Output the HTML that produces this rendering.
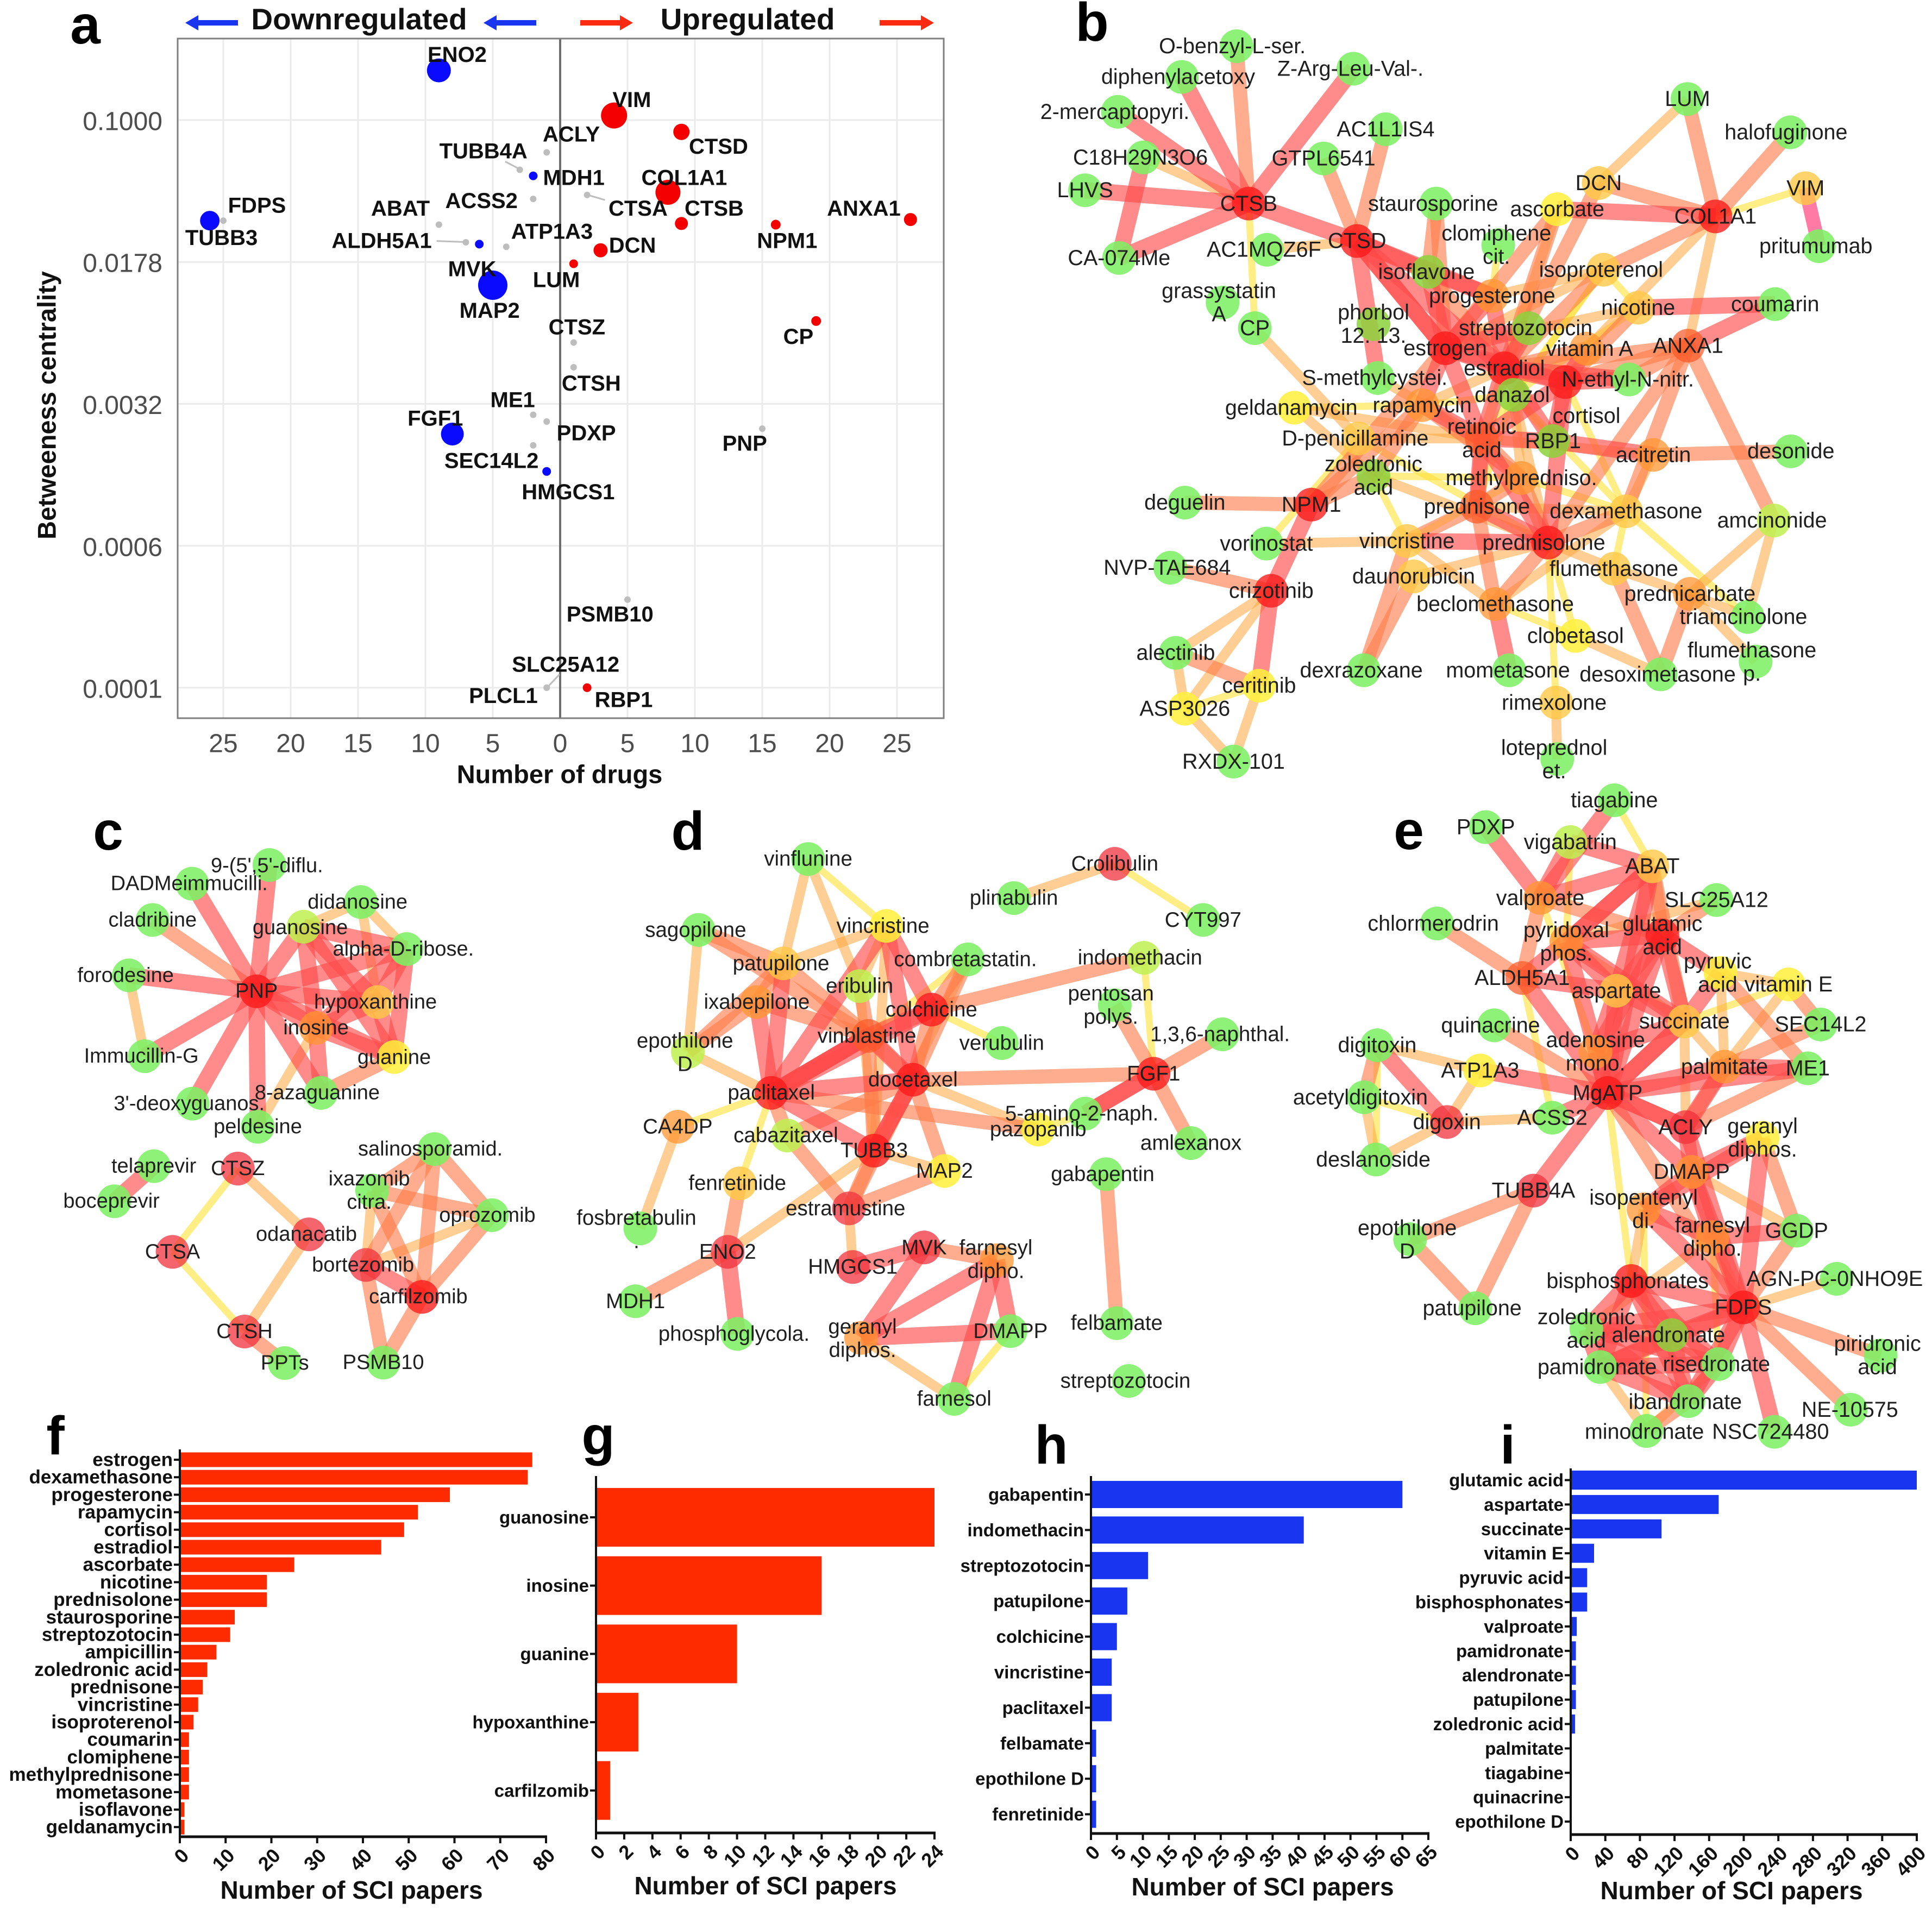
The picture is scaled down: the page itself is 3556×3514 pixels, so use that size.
<!DOCTYPE html>
<html><head><meta charset="utf-8"><title>Drug network figure</title>
<style>
html,body{margin:0;padding:0;background:#fff}
svg{display:block}
text{font-family:"Liberation Sans",sans-serif}
</style></head>
<body>
<svg id="fig" xmlns="http://www.w3.org/2000/svg" width="3556" height="3514" viewBox="0 0 3556 3514"></svg>
<script>
// ---------- Panel a data ----------
const genes = ['ENO2','VIM','CTSD','ACLY','TUBB4A','MDH1','COL1A1','CTSA','ACSS2','FDPS','TUBB3','ANXA1','CTSB','NPM1','ABAT','ALDH5A1','MVK','ATP1A3','DCN','LUM','MAP2','CP','CTSZ','CTSH','ME1','PDXP','PNP','FGF1','SEC14L2','HMGCS1','PSMB10','RBP1','PLCL1','SLC25A12'];
const drugCounts = [-9,4,9,-1,-3,-2,8,2,-2,-25,-26,26,9,16,-9,-7,-6,-4,3,1,-5,19,1,1,-2,-1,15,-8,-2,-1,5,2,-1,-1];
const centrality = [0.183,0.1057,0.0866,0.0675,0.0546,0.0507,0.0415,0.0402,0.0383,0.0294,0.0294,0.0298,0.0284,0.0280,0.0280,0.0226,0.0221,0.0214,0.0205,0.0174,0.0134,0.00867,0.00667,0.00494,0.00277,0.00255,0.00234,0.00219,0.00191,0.00139,0.000292,0.0001,0.0001,0.0001];
const regulation = ['d','u','u','n','n','d','u','n','n','n','d','u','u','u','n','n','d','n','u','u','d','u','n','n','n','n','n','d','n','d','n','u','n','n'];
const degree = [22,24,15,6,6,8,23,6,6,6,18,12,12,9,6,6,8,6,13,8,27,9,6,6,6,6,6,21,6,8,6,8,6,6];
const xTicksA = [25,20,15,10,5,0,5,10,15,20,25];
const xTickSignedA = [-25,-20,-15,-10,-5,0,5,10,15,20,25];
const yTickValuesA = [0.1,0.01778,0.003162,0.000562,0.0001];
const yTickLabelsA = ['0.1000','0.0178','0.0032','0.0006','0.0001'];

// ---------- Bar data ----------
const catF = ['estrogen','dexamethasone','progesterone','rapamycin','cortisol','estradiol','ascorbate','nicotine','prednisolone','staurosporine','streptozotocin','ampicillin','zoledronic acid','prednisone','vincristine','isoproterenol','coumarin','clomiphene','methylprednisone','mometasone','isoflavone','geldanamycin'];
const valF = [77,76,59,52,49,44,25,19,19,12,11,8,6,5,4,3,2,2,2,2,1,1];
const tickF = [0,10,20,30,40,50,60,70,80];
const catG = ['guanosine','inosine','guanine','hypoxanthine','carfilzomib'];
const valG = [24,16,10,3,1];
const tickG = [0,2,4,6,8,10,12,14,16,18,20,22,24];
const catH = ['gabapentin','indomethacin','streptozotocin','patupilone','colchicine','vincristine','paclitaxel','felbamate','epothilone D','fenretinide'];
const valH = [60,41,11,7,5,4,4,1,1,1];
const tickH = [0,5,10,15,20,25,30,35,40,45,50,55,60,65];
const catI = ['glutamic acid','aspartate','succinate','vitamin E','pyruvic acid','bisphosphonates','valproate','pamidronate','alendronate','patupilone','zoledronic acid','palmitate','tiagabine','quinacrine','epothilone D'];
const valI = [400,171,105,27,19,19,7,6,6,6,5,1,1,1,0];
const tickI = [0,40,80,120,160,200,240,280,320,360,400];

// ---------- Network data: [id,x,y,colour,label,labelX,labelY] ----------
const nodesB = [
['CTSB',445,397,'R','CTSB'],['CTSD',623,470,'R','CTSD'],['COL',1212,422,'R','COL1A1'],['LUM',1166,193,'G','LUM'],['halo',1335,258,'G','halofuginone',1328,258],['VIM',1360,367,'A','VIM'],['prit',1382,480,'G','pritumumab',1377,480],['DCN',1020,357,'A','DCN'],['asc',952,408,'Y','ascorbate'],['clom',855,478,'G','clomiphene\ncit.',852,478],
['obenz',425,90,'G','O-benzyl-L-ser.',418,90],['diph',335,150,'G','diphenylacetoxy',329,150],['zarg',617,134,'G','Z-Arg-Leu-Val-.',612,134],['merc',230,218,'G','2-mercaptopyri.',225,218],['ac1l',670,252,'G','AC1L1IS4'],['c18',272,307,'G','C18H29N3O6',267,307],['gtpl',568,309,'G','GTPL6541'],['lhvs',176,371,'G','LHVS'],['ca074',232,503,'G','CA-074Me'],['ac1m',475,487,'G','AC1MQZ6F',470,487],
['stau',753,397,'G','staurosporine',748,397],['isof',740,530,'L','isoflavone',737,530],['prog',845,577,'O','progesterone'],['isop',1028,526,'A','isoproterenol',1024,526],['nico',1085,600,'A','nicotine'],['coum',1310,593,'G','coumarin'],['ANXA',1167,674,'S','ANXA1'],['gras',402,590,'G','grassystatin\nA',396,590],['CP',455,640,'G','CP'],['phor',650,632,'L','phorbol\n12. 13.'],
['strep',905,640,'L','streptozotocin',900,640],['estr',768,679,'R','estrogen'],['vitA',1000,680,'O','vitamin A',1005,680],['estd',865,718,'R','estradiol'],['neth',1070,740,'G','N-ethyl-N-nitr.',1068,740],['cort',965,745,'R','cortisol',1000,811],['smet',657,737,'G','S-methylcystei.',652,737],['dana',880,770,'L','danazol',878,770],['geld',520,795,'Y','geldanamycin',515,795],['rapa',730,790,'O','rapamycin'],
['reti',828,855,'S','retinoic\nacid'],['RBP',945,860,'L','RBP1'],['dpen',625,855,'A','D-penicillamine',620,855],['acit',1110,887,'O','acitretin'],['deso',1336,880,'G','desonide'],['zole',650,928,'L','zoledronic\nacid'],['mpre',893,932,'O','methylpredniso.'],['NPM',548,984,'R','NPM1'],['degu',340,980,'G','deguelin'],['pdn',820,988,'S','prednisone'],
['dexa',1065,997,'A','dexamethasone'],['amci',1308,1015,'H','amcinonide',1305,1015],['vori',474,1060,'G','vorinostat'],['vinc',705,1055,'A','vincristine'],['pdl',937,1058,'R','prednisolone',930,1058],['nvp',316,1107,'G','NVP-TAE684',311,1107],['flum',1045,1109,'A','flumethasone'],['daun',716,1124,'A','daunorubicin'],['criz',482,1152,'R','crizotinib'],['pcarb',1170,1158,'O','prednicarbate'],
['becl',850,1178,'O','beclomethasone'],['tria',1265,1203,'G','triamcinolone',1258,1203],['clob',982,1240,'Y','clobetasol'],['alec',325,1273,'G','alectinib'],['flup',1278,1290,'G','flumethasone\np.',1272,1291],['desx',1122,1315,'G','desoximetasone',1117,1315],['dexr',634,1307,'G','dexrazoxane',630,1307],['mome',873,1307,'G','mometasone',871,1307],['ceri',462,1337,'Y','ceritinib'],['asp',340,1382,'Y','ASP3026'],
['rime',950,1370,'A','rimexolone',947,1370],['rxdx',420,1485,'G','RXDX-101'],['lote',952,1480,'G','loteprednol\net.',947,1481]];
const edgesB = {
3:['CTSB>diph','CTSB>zarg','CTSB>merc','CTSB>lhvs','CTSB>ca074','c18>ca074','CTSB>CTSD','CTSD>isof','CTSD>estr','CTSD>estr','CTSD>prog','asc>COL','estd>estr','cort>estd','RBP>acit','reti>RBP','nico>coum','ANXA>coum','estr>reti','estd>neth','NPM>criz','ceri>criz','becl>mome','pdl>pdn','reti>pdl','vinc>pdl','estr>strep','prog>estd','CTSD>smet','isof>estr','cort>reti','estr>cort','estd>reti','estd>RBP','cort>neth','cort>RBP','strep>estd','vitA>cort','prog>estr','estr>rapa','rapa>reti','reti>pdn','isof>prog','cort>pdl','CTSD>estd'],
2:['CTSB>obenz','CTSD>gtpl','CTSD>ac1l','COL>LUM','COL>halo','COL>DCN','COL>isop','DCN>estd','asc>estr','stau>estr','isof>estd','ANXA>amci','ANXA>neth','ANXA>cort','ANXA>estd','ANXA>pdl','ANXA>dexa','acit>deso','degu>NPM','NPM>rapa','NPM>estr','zole>rapa','alec>ceri','daun>dexr','vinc>dexr','pdn>vinc','pdn>reti','pdl>becl','dexa>pdl','pdn>becl','pcarb>desx','isop>estd','nvp>criz','flum>desx','pdn>mpre','pdl>mpre','asc>estd','stau>isof','nico>cort','vitA>estd','mpre>reti','mpre>rapa','NPM>zole'],
1:['CTSB>c18','CTSD>ac1m','LUM>DCN','COL>ANXA','COL>vitA','nico>estr','amci>pcarb','amci>tria','CP>dpen','geld>reti','geld>zole','criz>alec','criz>asp','alec>asp','asp>rxdx','ceri>rxdx','pcarb>tria','clob>desx','flum>pcarb','pcarb>flup','rime>lote','vori>vinc','flum>pdl','mpre>dana','prog>isop','asc>reti','isop>estr','dpen>reti','reti>acit','dexa>acit','smet>reti','zole>pdl','daun>pdl','dexa>pdn','rapa>estd','becl>dexa','becl>vinc','dana>pdl'],
0:['CTSB>CP','COL>VIM','dpen>vori','ceri>asp','becl>clob','pdl>rime','dexa>tria','vinc>mpre','dana>pdn','zole>mpre','dpen>pdl','clom>prog','isop>dana','nico>dana','geld>rapa','rapa>dana','dexa>dana','dexa>cort','flum>dexa','pdl>clob','vinc>zole','isop>reti','RBP>dana','isop>nico','mpre>dexa'],
p:['VIM>prit']};

const nodesC = [
['PNP',617,470,'R','PNP'],['dif',648,153,'G',"9-(5',5'-diflu.",642,155],['dad',462,200,'G','DADMeimmucilli.',455,200],['clad',367,291,'G','cladribine'],['did',868,246,'G','didanosine',860,246],['guo',730,308,'H','guanosine',722,310],['rib',978,364,'G','alpha-D-ribose.',970,364],['for',310,430,'G','forodesine',302,430],['hyp',908,497,'A','hypoxanthine',903,497],['ino',760,562,'O','inosine'],['gua',948,635,'Y','guanine',948,636],['imm',348,633,'G','Immucillin-G',340,633],['aza',772,725,'G','8-azaguanine',763,725],['deo',463,752,'G',"3'-deoxyguanos.",455,752],['pel',620,810,'G','peldesine'],
['tel',370,909,'G','telaprevir'],['boc',275,997,'G','boceprevir',268,997],['CTSZ',572,915,'C','CTSZ'],['CTSA',415,1124,'C','CTSA'],['oda',743,1080,'C','odanacatib',737,1080],['CTSH',588,1324,'C','CTSH'],['PPT',685,1403,'G','PPTs'],['sal',1045,866,'G','salinosporamid.',1035,866],['ixa',895,970,'G','ixazomib\ncitra.',888,970],['opr',1183,1032,'G','oprozomib',1172,1032],['bor',880,1157,'C','bortezomib',873,1157],['car',1015,1237,'R','carfilzomib',1006,1237],['psm',922,1402,'G','PSMB10']];
const edgesC = {
3:['PNP>dad','PNP>dif','PNP>for','PNP>imm','PNP>deo','PNP>pel','PNP>guo','PNP>hyp','PNP>ino','PNP>gua','PNP>aza','PNP>rib','tel>boc','guo>hyp','guo>gua','guo>ino','rib>gua','rib>ino','hyp>gua','ino>gua','guo>rib','ino>hyp','rib>hyp','aza>ino','bor>car'],
2:['PNP>clad','aza>gua','CTSH>PPT','sal>ixa','sal>bor','sal>car','sal>opr','ixa>opr','ixa>car','opr>car','bor>psm','car>psm'],
1:['for>imm','guo>did','did>hyp','did>rib','pel>ino','CTSZ>oda','oda>CTSH','ixa>bor','opr>bor'],
0:['CTSZ>CTSA','CTSA>CTSH']};

const nodesD = [
['vfl',546,138,'G','vinflunine'],['cro',1178,150,'C','Crolibulin'],['pli',970,236,'G','plinabulin'],['cyt',1360,291,'G','CYT997'],['sag',320,316,'G','sagopilone',314,316],['vcr',707,306,'Y','vincristine',700,306],['pat',495,400,'A','patupilone',490,400],['com',875,390,'G','combretastatin.',870,390],['ind',1238,386,'H','indomethacin',1230,386],['eri',652,457,'H','eribulin'],['ixa',440,497,'O','ixabepilone'],['col',800,516,'R','colchicine'],['pen',1178,505,'G','pentosan\npolys.',1170,505],['vbl',670,582,'S','vinblastine',667,582],['ver',945,600,'G','verubulin'],['n136',1400,578,'G','1,3,6-naphthal.',1395,578],['epo',298,622,'H','epothilone\nD',292,624],['FGF',1258,677,'R','FGF1'],['doc',762,692,'R','docetaxel'],['pac',470,725,'R','paclitaxel'],['am5',1117,777,'G','5-amino-2-naph.',1110,777],['paz',1020,817,'Y','pazopanib'],['ca4',277,810,'O','CA4DP'],['cab',503,832,'H','cabazitaxel',500,832],['aml',1335,851,'G','amlexanox'],['TUB',682,870,'R','TUBB3'],['MAP',827,921,'Y','MAP2'],['gab',1160,929,'G','gabapentin',1153,929],['fen',405,952,'A','fenretinide',400,952],['est',630,1015,'C','estramustine',623,1015],['fos',200,1065,'G','fosbretabulin\n.',192,1068],['ENO',380,1124,'C','ENO2'],['MVK',785,1113,'C','MVK'],['far',935,1145,'O','farnesyl\ndipho.',933,1143],['HMG',638,1162,'C','HMGCS1'],['MDH',190,1248,'G','MDH1'],['fel',1182,1303,'G','felbamate'],['ger',655,1340,'O','geranyl\ndiphos.',658,1342],['pho',400,1330,'G','phosphoglycola.',393,1330],['DMA',963,1323,'G','DMAPP'],['str',1207,1448,'G','streptozotocin',1200,1448],['fsl',847,1493,'G','farnesol']];
const edgesD = {
3:['doc>pac','vbl>pac','vbl>pac','vbl>pac','col>pac','col>vbl','doc>vbl','doc>TUB','doc>TUB','pac>TUB','pac>vcr','vcr>doc','vcr>col','pat>pac','ixa>pac','FGF>am5','FGF>am5','MVK>ger','far>ger','far>fsl','far>DMA','ger>DMA','MVK>HMG','ENO>pho'],
2:['FGF>doc','TUB>est','col>doc','MVK>far','FGF>pen','FGF>n136','FGF>aml','col>ind','ENO>MDH','ENO>fen','gab>fel','sag>pat','sag>vbl','ixa>vbl','epo>ixa','epo>pat','pat>vbl','vbl>TUB','cab>pac','cab>doc','cab>est','doc>MAP','est>MAP','pac>paz','eri>vbl','com>col','com>doc','doc>est','vbl>doc','pat>ixa'],
1:['vfl>pat','vfl>eri','sag>epo','epo>pac','ca4>fos','doc>paz','cro>pli','est>HMG','ger>fsl','ENO>TUB','vcr>eri','pat>vcr','com>TUB','TUB>MAP','eri>TUB','vcr>TUB'],
0:['vfl>vcr','cro>cyt','ca4>pac','pac>fen','ind>FGF','col>ver','DMA>fsl','com>vbl','am5>paz']};

const nodesE = [
['tia',775,55,'G','tiagabine'],['PDXP',454,118,'G','PDXP'],['vig',665,153,'H','vigabatrin'],['ABAT',870,210,'A','ABAT'],['val',590,284,'O','valproate'],['SLC',1030,289,'G','SLC25A12'],['chl',332,344,'G','chlormerodrin',323,344],['pyr',655,387,'O','pyridoxal\nphos.'],['glu',895,372,'R','glutamic\nacid'],['pyu',1040,460,'Y','pyruvic\nacid',1033,460],['ALD',545,472,'S','ALDH5A1'],['vitE',1210,487,'Y','vitamin E'],['asp',780,502,'A','aspartate'],['suc',950,574,'A','succinate'],['SEC',1290,581,'G','SEC14L2'],['qui',475,583,'G','quinacrine',466,583],['dgt',183,630,'G','digitoxin'],['ade',728,645,'O','adenosine\nmono.'],['pal',1050,680,'O','palmitate'],['ME1',1258,684,'G','ME1'],['ATP',440,689,'Y','ATP1A3'],['Mg',758,742,'R','MgATP'],['ace',150,752,'G','acetyldigitoxin',141,752],['ACS',620,800,'G','ACSS2'],['dgx',357,810,'C','digoxin'],['ACL',953,822,'C','ACLY'],['ger',1145,847,'Y','geranyl\ndiphos.'],['des',180,898,'G','deslanoside',173,898],['DMA',968,927,'O','DMAPP'],['TUB',573,971,'C','TUBB4A'],['ipe',848,1015,'O','isopentenyl\ndi.'],['epo',265,1085,'G','epothilone\nD',258,1086],['far',1020,1080,'O','farnesyl\ndipho.'],['GGD',1230,1065,'G','GGDP'],['bis',817,1183,'R','bisphosphonates',808,1183],['AGN',1330,1178,'G','AGN-PC-0NHO9E',1325,1178],['FDP',1097,1245,'R','FDPS'],['patu',428,1247,'G','patupilone',420,1247],['zol',705,1295,'G','zoledronic\nacid'],['ale',918,1310,'L','alendronate',910,1310],['pir',1440,1358,'G','piridronic\nacid',1432,1358],['pam',740,1385,'G','pamidronate',732,1385],['ris',1035,1378,'G','risedronate',1030,1378],['iba',960,1465,'G','ibandronate',952,1467],['NE',1365,1485,'G','NE-10575',1363,1485],['min',855,1535,'G','minodronate',850,1537],['NSC',1175,1537,'G','NSC724480',1165,1537]];
const edgesE = {
3:['PDXP>val','tia>val','vig>ABAT','ABAT>pyr','ABAT>pyr','glu>Mg','glu>asp','glu>suc','val>vig','val>ABAT','pyr>Mg','asp>Mg','suc>Mg','pyr>glu','suc>asp','ALD>pyr','ALD>asp','ALD>Mg','dgx>dgt','Mg>ATP','Mg>ade','Mg>ACL','Mg>ACL','Mg>pal','Mg>ME1','Mg>DMA','Mg>TUB','Mg>ACS','pal>ME1','glu>pyu','suc>pyu','DMA>far','DMA>FDP','ger>FDP','ger>ipe','ipe>FDP','far>GGD','ger>DMA','FDP>bis','FDP>ale','FDP>zol','FDP>pam','FDP>ris','FDP>iba','bis>ale','bis>zol','bis>pam','bis>ris','bis>iba','ale>zol','ale>pam','ale>ris','ale>iba','pam>ris','pam>iba','ris>iba','FDP>NSC','zol>pam','ABAT>Mg','ACL>DMA','ABAT>asp','pyr>asp','pyr>suc','glu>ade','ade>suc','asp>ade','ACL>pal','Mg>suc','far>ipe','DMA>ipe','zol>ris','zol>iba','ACL>FDP'],
2:['chl>ALD','qui>Mg','epo>TUB','TUB>patu','epo>patu','dgt>ace','val>ALD','ABAT>glu','SLC>glu','vitE>SEC','pyu>ME1','pal>ACL','ME1>ACL','SEC>pal','ger>GGD','FDP>pir','FDP>NE','FDP>GGD','Mg>FDP','iba>min','ABAT>suc','val>glu'],
1:['dgt>ATP','ATP>dgx','dgx>ACS','dgx>des','ace>des','FDP>AGN','vitE>pyu','vitE>pal','suc>pal','pyu>pal','suc>ACL','DMA>GGD','ipe>bis','far>FDP','pam>min','ris>min','pyr>suc','SLC>pyr','far>zol'],
0:['tia>ABAT','ALD>ACS','Mg>bis','ace>dgx','val>ade','vig>pyr','far>ris','ipe>min','dgt>des','vitE>suc']};

// ---------- Rendering ----------
const NS = 'http://www.w3.org/2000/svg';
const fig = document.getElementById('fig');
function mk(tag, attrs, parent) {
  const el = document.createElementNS(NS, tag);
  for (const k in attrs) el.setAttribute(k, attrs[k]);
  (parent || fig).appendChild(el);
  return el;
}
function group(name) {
  const g = mk('g', {});
  
  
  return g;
}
function label(parent, str, x, y, size, weight, fill, anchor, transform, name) {
  const t = mk('text', {x: x, y: y, 'font-size': size, 'font-weight': weight, fill: fill, 'text-anchor': anchor, 'dominant-baseline': 'central'}, parent);
  if (transform) t.setAttribute('transform', transform);
  t.textContent = str;
  
  
  return t;
}

// Panel letters
const letters = [['a',157,80],['b',2010,75],['c',199,1564],['d',1266,1564],['e',2593,1563],['f',102,2677],['g',1101,2677],['h',1935,2694],['i',2775,2694]];
const letterGroup = group('panel-letters');
letters.forEach(function (l) {
  const t = mk('text', {x: l[1], y: l[2], 'font-size': 100, 'font-weight': 'bold', fill: '#000', 'text-anchor': 'middle'}, letterGroup);
  t.textContent = l[0];
  
  
});

// Panel a
(function () {
  const g = group('panel-a-scatter');
  const L = 327, R = 1737, T = 71, B = 1322;
  const xs = function (v) { return 1031 + v * 24.8; };
  const ys = function (v) { return 221 + (-1 - Math.log10(v)) * 348.3; };
  const bg = mk('rect', {x: L, y: T, width: R - L, height: B - T, fill: '#fff'}, g);
  
  
  xTickSignedA.forEach(function (v, i) {
    const l = mk('line', {x1: xs(v), x2: xs(v), y1: T, y2: B, stroke: '#ebebeb', 'stroke-width': 3}, g);
    
    
    label(g, xTicksA[i], xs(v), 1369, 48, 'normal', '#4d4d4d', 'middle', null, 'x-tick-label');
  });
  yTickValuesA.forEach(function (v, i) {
    const l = mk('line', {x1: L, x2: R, y1: ys(v), y2: ys(v), stroke: '#ebebeb', 'stroke-width': 3}, g);
    
    
    label(g, yTickLabelsA[i], 299, ys(v) + 3, 48, 'normal', '#4d4d4d', 'end', null, 'y-tick-label');
  });
  const zero = mk('line', {x1: xs(0), x2: xs(0), y1: T, y2: B, stroke: '#6e6e6e', 'stroke-width': 4}, g);
  
  
  const frame = mk('rect', {x: L, y: T, width: R - L, height: B - T, fill: 'none', stroke: '#7f7f7f', 'stroke-width': 3}, g);
  
  
  const zx = function (x) { return x * 1.148; };
  const zy = function (y) { return y * 0.944; };
  const connectors = [[810,315,835,331],[942,380,970,390],[700,470,748,472],[877,1341,897,1315]];
  connectors.forEach(function (c) {
    const l = mk('line', {x1: zx(c[0]), y1: zy(c[1]), x2: zx(c[2]), y2: zy(c[3]), stroke: '#bdbdbd', 'stroke-width': 3}, g);
    
    
  });
  const palette = {d: '#0a0aff', u: '#f50000', n: '#bdbdbd'};
  genes.forEach(function (name, i) {
    const c = mk('circle', {cx: xs(drugCounts[i]), cy: ys(centrality[i]), r: degree[i], fill: palette[regulation[i]]}, g);
    
    
  });
  const labelAt = {ENO2:[733,107],VIM:[1013,195],CTSD:[1152,286],ACLY:[916,262],TUBB4A:[775,295],MDH1:[920,347],COL1A1:[1097,347],CTSA:[1023,407],ACSS2:[772,392],FDPS:[412,401],TUBB3:[355,464],ANXA1:[1385,407],CTSB:[1145,407],NPM1:[1262,470],ABAT:[642,407],ALDH5A1:[612,470],MVK:[757,525],ATP1A3:[885,452],DCN:[1014,479],LUM:[892,546],MAP2:[785,606],CP:[1280,657],CTSZ:[925,638],CTSH:[948,748],ME1:[822,780],PDXP:[940,845],PNP:[1194,865],FGF1:[698,816],SEC14L2:[788,899],HMGCS1:[911,960],PSMB10:[978,1198],RBP1:[1000,1365],PLCL1:[807,1357],SLC25A12:[907,1296]};
  genes.forEach(function (name) {
    const p = labelAt[name];
    label(g, name, zx(p[0]), zy(p[1]), 40, 'bold', '#111', 'middle', null, 'gene-label-' + name.toLowerCase());
  });
  label(g, 'Number of drugs', 1030, 1425, 47, 'bold', '#111', 'middle', null, 'x-axis-title');
  label(g, 'Betweeness centrality', 86, 746, 47, 'bold', '#111', 'middle', 'rotate(-90 86 746)', 'y-axis-title');
  label(g, 'Downregulated', 661, 35, 55, 'bold', '#111', 'middle', null, 'downregulated-title');
  label(g, 'Upregulated', 1376, 35, 55, 'bold', '#111', 'middle', null, 'upregulated-title');
  const arrows = [[438,341,'#1a35f0'],[987,890,'#1a35f0'],[1068,1165,'#ff2a10'],[1619,1719,'#ff2a10']];
  arrows.forEach(function (a) {
    const dir = a[1] > a[0] ? 1 : -1;
    const tipBase = a[1] - dir * 24;
    const y = 42;
    const s = mk('path', {d: 'M' + a[0] + ' ' + (y - 5) + 'L' + tipBase + ' ' + (y - 5) + 'L' + tipBase + ' ' + (y - 14) + 'L' + a[1] + ' ' + y + 'L' + tipBase + ' ' + (y + 14) + 'L' + tipBase + ' ' + (y + 5) + 'L' + a[0] + ' ' + (y + 5) + 'Z', fill: a[2]}, g);
    
    
  });
})();

// Networks
const nodeFill = {R:'rgba(250,25,25,.78)',C:'rgba(240,50,60,.75)',S:'rgba(250,90,40,.72)',O:'rgba(255,150,50,.75)',A:'rgba(255,200,70,.8)',Y:'rgba(255,240,60,.85)',H:'rgba(190,240,80,.85)',L:'rgba(140,210,60,.85)',G:'rgba(125,240,100,.88)'};
const edgeStyle = {
  3:{c:'#ff4a4a',o:.64,w:30},
  2:{c:'#ff7a48',o:.62,w:26},
  1:{c:'#ffa63c',o:.55,w:18},
  0:{c:'#ffe23c',o:.62,w:13},
  p:{c:'#ff5a90',o:.8,w:26}
};
function drawNetwork(name, nodes, edges, ox, oy, sx, sy, fontSize) {
  const g = group(name);
  const X = function (x) { return ox + x * sx; };
  const Y = function (y) { return oy + y * sy; };
  const idx = {};
  nodes.forEach(function (n) { idx[n[0]] = n; });
  ['0','1','2','3','p'].forEach(function (k) {
    (edges[k] || []).forEach(function (pair) {
      const ids = pair.split('>');
      const a = idx[ids[0]], b = idx[ids[1]];
      const st = edgeStyle[k];
      const l = mk('line', {x1: X(a[1]), y1: Y(a[2]), x2: X(b[1]), y2: Y(b[2]), stroke: st.c, 'stroke-opacity': st.o, 'stroke-width': st.w}, g);
      
      
    });
  });
  nodes.forEach(function (n) {
    const c = mk('circle', {cx: X(n[1]), cy: Y(n[2]), r: 31, fill: nodeFill[n[3]]}, g);
    
    
  });
  nodes.forEach(function (n) {
    const lx = n[5] === undefined ? n[1] : n[5];
    const ly = n[6] === undefined ? n[2] : n[6];
    const lines = n[4].split('\n');
    lines.forEach(function (s, i) {
      const yy = Y(ly) + (i - (lines.length - 1) / 2) * 43;
      label(g, s, X(lx), yy, fontSize, 'normal', '#1f1f1f', 'middle', null, 'node-label-' + n[0].toLowerCase());
    });
  });
}
drawNetwork('panel-b-network', nodesB, edgesB, 1800, 0, 1.12, 0.944, 39.5);
drawNetwork('panel-c-network', nodesC, edgesC, 0, 1480, 0.7653, 0.7334, 38);
drawNetwork('panel-d-network', nodesD, edgesD, 1000, 1480, 0.8929, 0.7334, 38.5);
drawNetwork('panel-e-network', nodesE, edgesE, 2400, 1430, 0.7372, 0.7844, 39.5);

// Bars
function drawBars(cfg, cats, vals, ticks) {
  const g = group(cfg.name);
  const xs = function (v) { return cfg.x0 + (v / cfg.max) * (cfg.x1 - cfg.x0); };
  cats.forEach(function (c, i) {
    const cy = cfg.first + i * cfg.step;
    const r = mk('rect', {x: xs(0), y: cy - cfg.h / 2, width: xs(vals[i]) - xs(0), height: cfg.h, fill: cfg.color}, g);
    
    
    const tk = mk('line', {x1: xs(0) - 11, x2: xs(0), y1: cy, y2: cy, stroke: '#111', 'stroke-width': 4}, g);
    
    
    label(g, c, xs(0) - 13, cy, cfg.font, 'bold', '#111', 'end', null, 'category-label');
  });
  const yAxis = mk('line', {x1: xs(0), x2: xs(0), y1: cfg.top, y2: cfg.bottom + 2, stroke: '#111', 'stroke-width': 4}, g);
  
  
  const xAxis = mk('line', {x1: xs(0) - 2, x2: cfg.x1 + 2, y1: cfg.bottom, y2: cfg.bottom, stroke: '#111', 'stroke-width': 5}, g);
  
  
  ticks.forEach(function (v) {
    const x = xs(v);
    const tk = mk('line', {x1: x, x2: x, y1: cfg.bottom, y2: cfg.bottom + 12, stroke: '#111', 'stroke-width': 4}, g);
    
    
    const tx = x + 10, ty = cfg.bottom + 28;
    label(g, v, tx, ty, 36, 'bold', '#111', 'end', 'rotate(-45 ' + tx + ' ' + ty + ')', 'x-tick-label');
  });
  label(g, 'Number of SCI papers', cfg.titleX, cfg.titleY, 46, 'bold', '#111', 'middle', null, 'x-axis-title');
}
drawBars({name:'panel-f-bars',x0:331,x1:1005,max:80,first:2687,step:32.2,h:27,top:2668,bottom:3381,color:'#fe2a00',font:35,titleX:647,titleY:3479}, catF, valF, tickF);
drawBars({name:'panel-g-bars',x0:1097,x1:1720,max:24,first:2793,step:125.7,h:108,top:2717,bottom:3374,color:'#fe2a00',font:33,titleX:1409,titleY:3471}, catG, valG, tickG);
drawBars({name:'panel-h-bars',x0:2008,x1:2629,max:65,first:2751,step:65.4,h:50,top:2717,bottom:3375,color:'#1a35f0',font:33,titleX:2324,titleY:3473}, catH, valH, tickH);
drawBars({name:'panel-i-bars',x0:2891,x1:3528,max:400,first:2724.5,step:44.9,h:35,top:2703,bottom:3377,color:'#1a35f0',font:33,titleX:3187,titleY:3480}, catI, valI, tickI);
</script>
</body></html>
